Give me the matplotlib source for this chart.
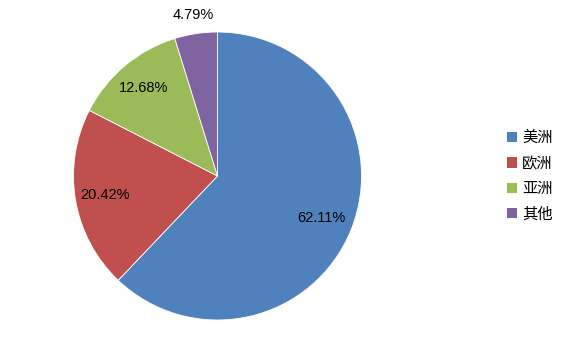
import matplotlib
matplotlib.use("Agg")
import matplotlib.pyplot as plt
from matplotlib.patches import Patch
import numpy as np

plt.rcParams['font.family'] = ['Liberation Sans', 'Noto Sans CJK SC', 'DejaVu Sans']

# data
regions = ['美洲', '欧洲', '亚洲', '其他']
shares = [62.11, 20.42, 12.68, 4.79]
colors = ['#4F81BD', '#C0504D', '#9BBB59', '#8064A2']
label_dist = [0.78, 0.79, 0.80, 1.13]

fig = plt.figure(figsize=(5.66, 3.53), dpi=100)
ax = fig.add_axes([73.5 / 566, 33 / 353, 288 / 566, 288 / 353])

wedges, _ = ax.pie(shares, colors=colors, startangle=90, counterclock=False,
                   radius=1, wedgeprops=dict(edgecolor='white', linewidth=0.6))

# percentage labels
for w, s, d in zip(wedges, shares, label_dist):
    ang = np.radians((w.theta1 + w.theta2) / 2)
    ax.text(d * np.cos(ang), d * np.sin(ang), '%.2f%%' % s,
            ha='center', va='center', fontsize=10.5, color='black')

ax.set_xlim(-1, 1)
ax.set_ylim(-1, 1)
ax.set_aspect('equal')
ax.axis('off')

handles = [Patch(facecolor=c, edgecolor='none') for c in colors]
leg = fig.legend(handles, regions, loc='center left',
                 bbox_to_anchor=(493 / 566, 1 - 176 / 353), frameon=False,
                 prop={'family': ['Noto Sans CJK SC', 'DejaVu Sans'], 'size': 11},
                 handlelength=0.65, handleheight=0.65, handletextpad=0.35,
                 labelspacing=0.55)

fig.savefig('out.png', dpi=100)
